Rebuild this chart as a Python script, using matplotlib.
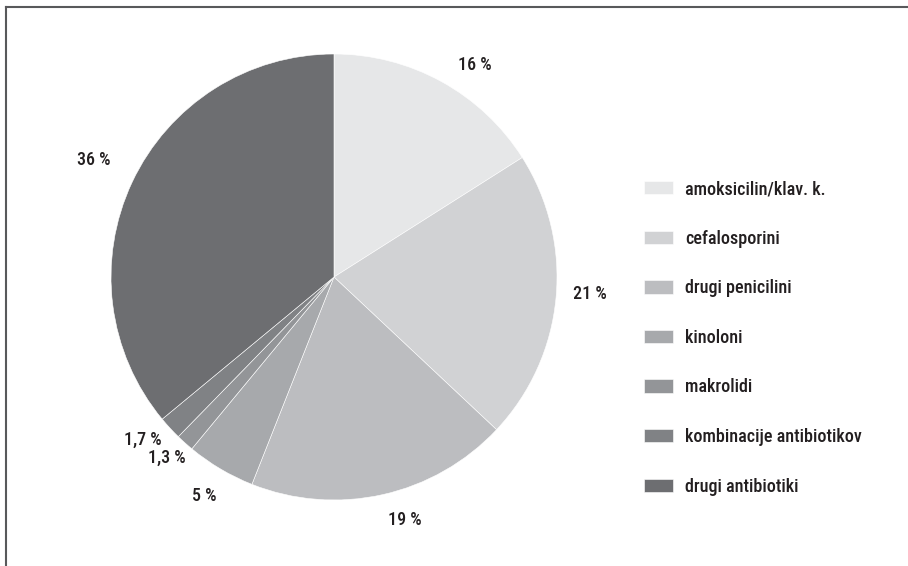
import matplotlib
matplotlib.use("Agg")
import matplotlib.pyplot as plt
from matplotlib.lines import Line2D
from matplotlib import font_manager

categories = ["amoksicilin/klav. k.", "cefalosporini", "drugi penicilini", "kinoloni",
              "makrolidi", "kombinacije antibiotikov", "drugi antibiotiki"]
values = [16, 21, 19, 5, 1.3, 1.7, 36]
value_labels = ["16 %", "21 %", "19 %", "5 %", "1,3 %", "1,7 %", "36 %"]
colors = ["#e6e7e8", "#d1d2d4", "#bcbdc0", "#a7a9ac", "#939598", "#808285", "#6d6e71"]
# label positions in pie data units (radius = 1)
label_pos = [(0.632, 0.951), (1.148, -0.076), (0.318, -1.090), (-0.583, -0.982),
             (-0.749, -0.812), (-0.857, -0.731), (-1.076, 0.525)]

names = {f.name for f in font_manager.fontManager.ttflist}
fams = [n for n in ["Roboto Condensed", "Open Sans Condensed", "Liberation Sans Narrow",
                    "DejaVu Sans Condensed", "Roboto"] if n in names]
print("available:", sorted(n for n in names if "Cond" in n or "Narrow" in n))
plt.rcParams['font.family'] = fams + ['DejaVu Sans']
plt.rcParams['font.stretch'] = 'condensed'

W, H = 908, 566
fig = plt.figure(figsize=(W / 100, H / 100), dpi=100)

cx, cy, R = 334, 277, 223
ax = fig.add_axes([(cx - R) / W, (H - cy - R) / H, 2 * R / W, 2 * R / H])
wedges, _ = ax.pie(values, colors=colors, startangle=90, counterclock=False,
                   radius=1, wedgeprops=dict(edgecolor="white", linewidth=0.4))
ax.set_xlim(-1, 1)
ax.set_ylim(-1, 1)
ax.set_aspect("equal")
ax.axis("off")

fs = 13
for (x, y), t in zip(label_pos, value_labels):
    ax.text(x, y, t, ha="center", va="center", fontsize=fs, color="#231f20",
            fontweight="medium", clip_on=False)

fpx = fs * 100 / 72
fig.legend(wedges, categories, loc="upper left",
           bbox_to_anchor=(644 / W, (H - 180) / H), frameon=False,
           prop=dict(size=fs, weight="medium"), handlelength=29 / fpx, handleheight=14 / fpx,
           handletextpad=12 / fpx, labelspacing=1.75, borderpad=0, borderaxespad=0,
           labelcolor="#231f20")

# frame lines (left and top)
fig.add_artist(Line2D([6 / W, 6 / W], [0, (H - 7) / H], transform=fig.transFigure,
                      color="#58595b", linewidth=1.5, solid_capstyle="projecting"))
fig.add_artist(Line2D([6 / W, 1], [(H - 7) / H, (H - 7) / H], transform=fig.transFigure,
                      color="#58595b", linewidth=1.5, solid_capstyle="projecting"))

fig.savefig("out.png", dpi=100, facecolor="white")
